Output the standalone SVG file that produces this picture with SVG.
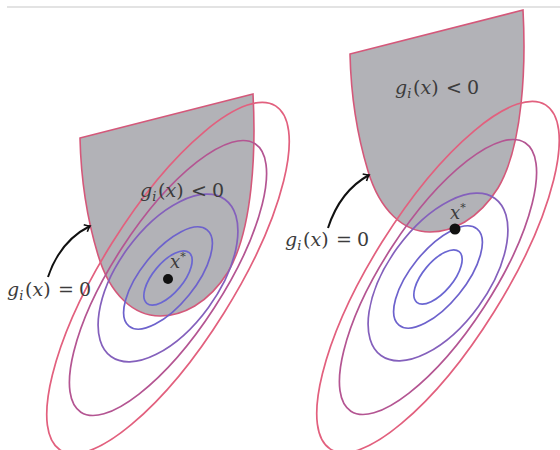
<svg xmlns="http://www.w3.org/2000/svg" xmlns:xlink="http://www.w3.org/1999/xlink" width="560" height="450" viewBox="0 0 560 450">
<style>
.region{fill:#b2b2b7;stroke:#d4587a;stroke-width:1.6}
.lvl{fill:none;stroke-width:1.7}
.c1{stroke:#6a66d2}.c2{stroke:#6d62cc}.c3{stroke:#8460bc}.c4{stroke:#b45592}.c5{stroke:#e2607e}
.lbl{font-family:"DejaVu Serif",serif;font-size:19px;fill:#3c3c3c}
.it{font-style:italic}
.sub{font-size:13px;font-style:italic}
.arrow{fill:none;stroke:#111;stroke-width:2}
</style>
<defs>
<marker id="tip" markerUnits="userSpaceOnUse" markerWidth="12" markerHeight="12" viewBox="-6 -6 12 12" refX="0" refY="0" orient="auto">
<path d="M-5,-4 Q-1.5,-0.8 0,0 Q-1.5,0.8 -5,4" fill="none" stroke="#111" stroke-width="1.6"/>
</marker>
<path id="regionShape" d="M80,138 L253,94 C256,150 253,230 228,272 C208,304 182,316 160,316 C134,316 110,295 98,255 C88,222 81,182 80,138 Z"/>
<g id="levels">
<ellipse class="lvl c1" cx="0" cy="0" rx="33" ry="15" transform="rotate(-50)"/>
<ellipse class="lvl c2" cx="0" cy="0" rx="62" ry="27" transform="rotate(-51)"/>
<ellipse class="lvl c3" cx="0" cy="0" rx="97" ry="50" transform="rotate(-54)"/>
<ellipse class="lvl c4" cx="0" cy="0" rx="160" ry="55" transform="rotate(-57)"/>
<ellipse class="lvl c5" cx="0" cy="0" rx="203" ry="66" transform="rotate(-58)"/>
</g>
</defs>
<line x1="7" y1="7" x2="560" y2="7" stroke="#dadada" stroke-width="1.5"/>
<g id="left-panel">
<g id="left-region"><use xlink:href="#regionShape" class="region"/></g>
<g id="left-levels"><use xlink:href="#levels" transform="translate(168,278)"/></g>
<g id="left-min"><circle cx="168" cy="279" r="5" fill="#111"/>
<text class="lbl" x="170" y="268"><tspan class="it" font-size="18">x</tspan><tspan font-size="11" dy="-8">*</tspan></text></g>
<g id="left-label-lt"><text class="lbl" y="197"><tspan class="it" x="140">g</tspan><tspan class="sub" dy="4">i</tspan><tspan x="158" dy="-4">(</tspan><tspan class="it">x</tspan><tspan>)</tspan><tspan x="191">&lt;</tspan><tspan x="212">0</tspan></text></g>
<g id="left-label-eq"><text class="lbl" y="296"><tspan class="it" x="7">g</tspan><tspan class="sub" dy="4">i</tspan><tspan x="25" dy="-4">(</tspan><tspan class="it">x</tspan><tspan>)</tspan><tspan x="58">=</tspan><tspan x="79">0</tspan></text></g>
</g>
<g id="right-panel">
<g id="right-region"><use xlink:href="#regionShape" class="region" transform="translate(270,-84)"/></g>
<g id="right-levels"><use xlink:href="#levels" transform="translate(438,277)"/></g>
<g id="right-min"><circle cx="455" cy="229" r="5.5" fill="#111"/>
<text class="lbl" x="450" y="219"><tspan class="it" font-size="18">x</tspan><tspan font-size="11" dy="-8">*</tspan></text></g>
<g id="right-label-lt"><text class="lbl" y="94"><tspan class="it" x="395">g</tspan><tspan class="sub" dy="4">i</tspan><tspan x="413" dy="-4">(</tspan><tspan class="it">x</tspan><tspan>)</tspan><tspan x="446">&lt;</tspan><tspan x="467">0</tspan></text></g>
<g id="right-label-eq"><text class="lbl" y="246"><tspan class="it" x="285">g</tspan><tspan class="sub" dy="4">i</tspan><tspan x="303" dy="-4">(</tspan><tspan class="it">x</tspan><tspan>)</tspan><tspan x="336">=</tspan><tspan x="357">0</tspan></text></g>
</g>
<g id="connectors">
<path class="arrow" d="M48,277 Q60,241 90,226" marker-end="url(#tip)"/>
<path class="arrow" d="M328,228 Q340,191 369,175" marker-end="url(#tip)"/>
</g>
</svg>
